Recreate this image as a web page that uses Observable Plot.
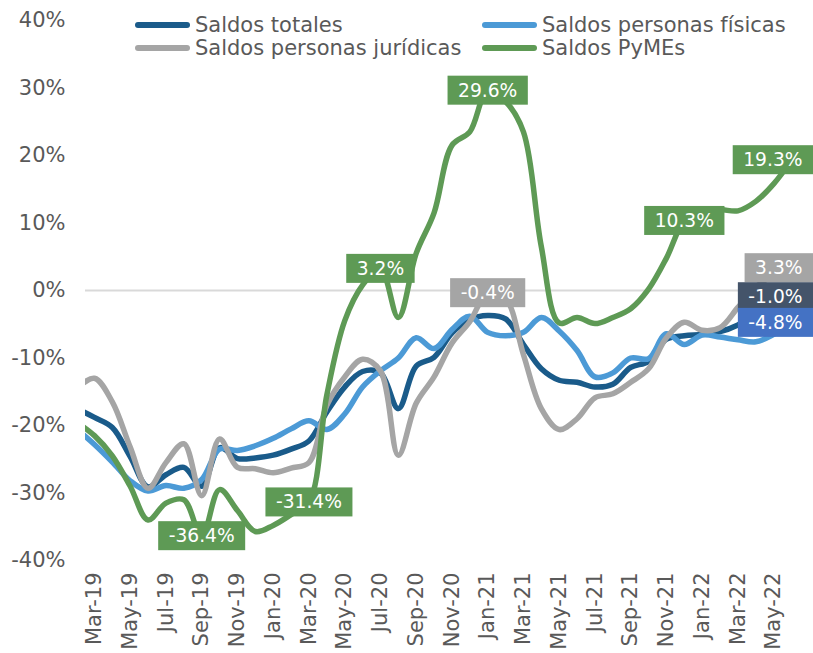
<!DOCTYPE html>
<html>
<head>
<meta charset="utf-8">
<script src="https://cdn.jsdelivr.net/npm/d3@7"></script>
<script src="https://cdn.jsdelivr.net/npm/@observablehq/plot@0.6"></script>
<style>
  html, body { margin: 0; padding: 0; background: #ffffff; }
  #wrap { position: relative; width: 813px; height: 653px; font-family: "DejaVu Sans", Verdana, sans-serif; }
  #chart svg { display: block; }
  .leg { position: absolute; display: flex; align-items: center; font-size: 21px; line-height: 24px; color: #595959; white-space: nowrap; }
  .sw { display: inline-block; width: 55px; height: 6px; border-radius: 3px; margin-right: 5px; }
</style>
</head>
<body>
<div id="wrap">
  <div id="chart"></div>
  <div id="legend"></div>
</div>
<script>
// ---- DATA ----
const months = ["Feb-19","Mar-19","Apr-19","May-19","Jun-19","Jul-19","Aug-19","Sep-19","Oct-19","Nov-19","Dec-19",
  "Jan-20","Feb-20","Mar-20","Apr-20","May-20","Jun-20","Jul-20","Aug-20","Sep-20","Oct-20","Nov-20","Dec-20",
  "Jan-21","Feb-21","Mar-21","Apr-21","May-21","Jun-21","Jul-21","Aug-21","Sep-21","Oct-21","Nov-21","Dec-21",
  "Jan-22","Feb-22","Mar-22","Apr-22","May-22","Jun-22"];

const tickLabels = ["Mar-19","May-19","Jul-19","Sep-19","Nov-19","Jan-20","Mar-20","May-20","Jul-20","Sep-20",
  "Nov-20","Jan-21","Mar-21","May-21","Jul-21","Sep-21","Nov-21","Jan-22","Mar-22","May-22"];

const yTicks = [40, 30, 20, 10, 0, -10, -20, -30, -40];

const seriesNames = ["Saldos totales", "Saldos personas físicas", "Saldos personas jurídicas", "Saldos PyMEs"];
const seriesColors = ["#1A5B8A", "#4C9AD6", "#A5A5A5", "#5E9A55"];
const labelColors = ["#44546A", "#4472C4", "#A5A5A5", "#5E9A55"];

const totales = [-17.5, -18.8, -20.3, -24.6, -29.1, -27.3, -26.2, -29.0, -23.3, -24.9, -24.8, -24.4, -23.5, -22.3,
  -18.0, -14.3, -12.0, -12.2, -17.5, -11.2, -9.9, -6.3, -4.3, -3.7, -4.2, -8.0, -11.6, -13.3, -13.6, -14.3, -13.9,
  -11.4, -10.5, -7.2, -6.7, -6.5, -6.1, -5.1, -3.5, -2.0, -1.0];

const fisicas = [-20.5, -22.8, -25.4, -28.2, -29.7, -28.9, -29.3, -28.0, -23.5, -23.7, -23.0, -21.9, -20.5, -19.3,
  -20.6, -18.3, -14.3, -11.9, -10.0, -7.0, -8.6, -5.8, -3.8, -6.2, -6.7, -6.2, -4.0, -6.0, -8.9, -12.8, -12.2,
  -10.0, -10.1, -6.4, -8.0, -6.6, -6.9, -7.3, -7.6, -6.5, -4.8];

const juridicas = [-14.5, -13.0, -16.5, -23.2, -29.3, -25.5, -22.7, -30.4, -22.0, -26.2, -26.4, -27.0, -26.3, -25.5,
  -17.0, -12.8, -10.2, -11.9, -24.4, -16.7, -12.8, -7.8, -4.6, -0.4, -1.2, -9.5, -17.5, -20.6, -19.0, -15.9, -15.3,
  -13.6, -11.6, -7.0, -4.7, -5.9, -5.5, -2.5, 0.5, 2.3, 3.3];

const pymes = [-19.5, -21.5, -24.5, -29.0, -34.0, -31.5, -31.0, -36.4, -29.5, -32.6, -35.7, -34.8, -33.2, -31.4,
  -15.5, -4.5, 0.8, 3.2, -4.0, 5.5, 11.5, 21.5, 23.5, 29.6, 28.0, 23.5, 6.5, -4.8, -4.0, -4.9, -4.0, -2.7, 0.2,
  4.8, 10.3, 11.8, 12.0, 11.8, 13.2, 15.8, 19.3];

const labelsTotales = ["Jun-22"];
const labelsFisicas = ["Jun-22"];
const labelsJuridicas = ["Jan-21", "Jun-22"];
const labelsPymes = ["Sep-19", "Mar-20", "Jul-20", "Jan-21", "Dec-21", "Jun-22"];

// ---- BUILD ----
const W = 813, H = 653;
const seriesValues = [totales, fisicas, juridicas, pymes];
const seriesLabels = [labelsTotales, labelsFisicas, labelsJuridicas, labelsPymes];
const toRows = (vals, k) => vals.map((v, i) => ({ i: i - 1, v, s: k }));
const labelRows = (k) => seriesLabels[k].map(m => {
  const idx = months.indexOf(m);
  return { i: idx - 1, v: seriesValues[k][idx], s: k, tag: "lbl" + k };
});
const tickIdx = tickLabels.map(m => months.indexOf(m) - 1);

const marks = [
  Plot.ruleY([0], { stroke: "#D9D9D9", strokeWidth: 2 }),
  Plot.axisY({ ticks: yTicks, tickFormat: d => d + "%", tickSize: 0, tickPadding: 20, fontSize: 21, label: null }),
  Plot.axisX({ ticks: tickIdx, tickFormat: i => months[i + 1], tickRotate: -90, tickSize: 0, tickPadding: 12, fontSize: 21, label: null })
];
seriesValues.forEach((vals, k) => {
  marks.push(Plot.line(toRows(vals, k), {
    x: "i", y: "v", stroke: seriesColors[k], strokeWidth: 5.5, curve: "catmull-rom",
    strokeLinecap: "round", strokeLinejoin: "round", clip: true
  }));
});
const labelOrder = [3, 2, 0, 1];
labelOrder.forEach(k => {
  marks.push(Plot.text(labelRows(k), {
    x: "i", y: "v", text: d => d.v.toFixed(1) + "%", fill: "white", fontSize: 18.67,
    ariaLabel: d => d.tag
  }));
});

const chart = Plot.plot({
  width: W, height: H,
  marginLeft: 85, marginRight: 13, marginTop: 20, marginBottom: 93,
  x: { type: "linear", domain: [-0.5, 39.5], label: null },
  y: { domain: [-40, 40], label: null },
  style: { fontFamily: "'DejaVu Sans', Verdana, sans-serif", fontSize: "21px", color: "#595959", background: "#ffffff", overflow: "visible" },
  marks
});
document.getElementById("chart").append(chart);

// label boxes
const svgRect = chart.getBoundingClientRect();
chart.querySelectorAll("text").forEach(t => {
  const host = t.closest('[aria-label^="lbl"]');
  if (!host) return;
  const k = +host.getAttribute("aria-label").slice(3);
  const bb = t.getBBox();
  const padX = 10.5, h = 29;
  const w = bb.width + 2 * padX;
  const cx = bb.x + bb.width / 2, cy = bb.y + bb.height / 2;
  const r = t.getBoundingClientRect();
  const absRight = (r.left + r.width / 2 - svgRect.left) + w / 2;
  const shift = absRight > W ? absRight - W : 0;
  const rect = document.createElementNS("http://www.w3.org/2000/svg", "rect");
  rect.setAttribute("x", cx - w / 2 - shift);
  rect.setAttribute("y", cy - h / 2);
  rect.setAttribute("width", w);
  rect.setAttribute("height", h);
  rect.setAttribute("fill", labelColors[k]);
  if (t.getAttribute("transform")) rect.setAttribute("transform", t.getAttribute("transform"));
  t.parentNode.insertBefore(rect, t);
  if (shift) t.setAttribute("dx", -shift);
});

// legend
const legendPos = [
  { left: 135, top: 13 }, { left: 482, top: 13 },
  { left: 135, top: 36 }, { left: 482, top: 36 }
];
const leg = document.getElementById("legend");
[0, 1, 2, 3].forEach((k, j) => {
  const d = document.createElement("div");
  d.className = "leg";
  d.style.left = legendPos[j].left + "px";
  d.style.top = legendPos[j].top + "px";
  const sw = document.createElement("span");
  sw.className = "sw";
  sw.style.background = seriesColors[k];
  const tx = document.createElement("span");
  tx.textContent = seriesNames[k];
  d.append(sw, tx);
  leg.append(d);
});
</script>
</body>
</html>
